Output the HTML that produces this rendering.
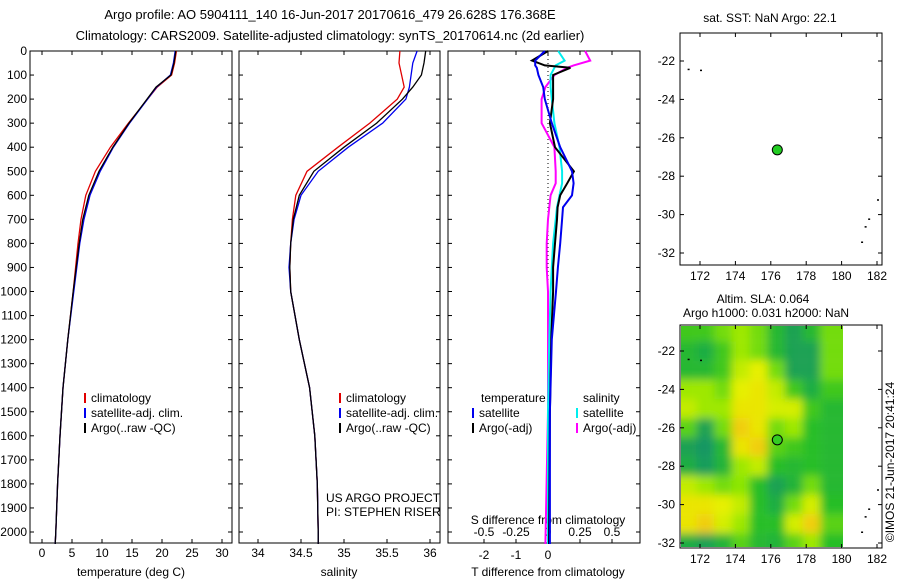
<!DOCTYPE html>
<html><head><meta charset="utf-8"><style>
body{margin:0;background:#fff}
svg{font-family:"Liberation Sans",sans-serif;font-size:12px}
</style></head><body>
<svg id="s" width="900" height="580" xmlns="http://www.w3.org/2000/svg">
<text x="330" y="19" text-anchor="middle" font-size="13">Argo profile: AO 5904111_140 16-Jun-2017 20170616_479 26.628S 176.368E</text>
<text x="330" y="40" text-anchor="middle" font-size="13">Climatology: CARS2009. Satellite-adjusted climatology: synTS_20170614.nc (2d earlier)</text>
<g id="g"></g>
</svg>
<script>
const depths=[0,50,100,150,200,300,400,500,600,700,800,900,1000,1200,1400,1600,1800,2000,2050];
const tempArgo=[22.3,22,21.5,19,17.5,14.5,11.8,9.5,7.8,6.8,6.2,5.7,5.2,4.3,3.5,3.0,2.6,2.3,2.2];
const tempClim=[22.4,22.1,21.6,19.2,17.6,14.4,11.4,8.9,7.3,6.5,6.0,5.6,5.2,4.3,3.5,3.0,2.6,2.3,2.2];
const tempSat=[22.2,21.9,21.4,19.1,17.6,14.6,11.9,9.7,8.0,7.0,6.3,5.8,5.3,4.3,3.5,3.0,2.6,2.3,2.2];
const salArgo=[35.95,35.93,35.9,35.8,35.68,35.38,35.0,34.65,34.48,34.41,34.38,34.37,34.38,34.48,34.6,34.66,34.69,34.7,34.7];
const salClim=[35.65,35.64,35.67,35.7,35.62,35.3,34.93,34.57,34.44,34.4,34.38,34.37,34.38,34.48,34.6,34.66,34.69,34.7,34.7];
const salSat=[35.85,35.8,35.78,35.76,35.72,35.45,35.05,34.7,34.5,34.42,34.38,34.36,34.38,34.48,34.6,34.66,34.69,34.7,34.7];
const dDepths=[0,40,60,70,100,150,200,300,400,500,550,600,650,700,800,900,1000,1200,1500,2050];
const dTSat=[-0.1,-0.4,-0.4,-0.35,-0.3,-0.15,-0.1,0.12,0.38,0.75,0.8,0.75,0.47,0.44,0.38,0.31,0.25,0.12,0.06,0.06];
const dTArgo=[0,-0.5,-0.1,0.7,0.16,0.16,0.16,0.06,0.22,0.81,0.6,0.38,0.3,0.28,0.22,0.16,0.16,0.1,0.06,0.03];
const dSSat=[0.08,0.13,0.06,0.05,0.02,0.02,0.03,0.05,0.09,0.11,0.11,0.09,0.07,0.06,0.04,0.03,0.02,0.01,0.0,0.0];
const dSArgo=[0.29,0.33,0.2,0.15,0.05,-0.02,-0.05,-0.05,0.05,0.06,0.06,0.02,0.01,0.0,-0.01,-0.01,0,0,0,-0.02];
const slaLats=[-21,-22,-23,-24,-25,-26,-27,-28,-29,-30,-31,-32];
const slaGrid=[
[0.4,0.4,0.5,0.6,0.5,0.3,0.1,0.3,0.5],[0.3,0.2,0.4,0.6,0.5,0.3,0.1,0.1,0.5],
[0.3,0.3,0.4,0.7,0.8,0.5,0.1,0.1,0.5],[0.6,0.6,0.5,0.8,0.85,0.7,0.4,0.2,0.4],
[0.7,0.6,0.6,0.85,0.85,0.75,0.75,0.4,0.3],[0.45,0.1,0.5,0.95,0.85,0.5,0.6,0.35,0.3],
[0.1,0.0,0.3,0.85,0.95,0.45,0.4,0.35,0.3],[0.2,0.05,0.25,0.6,0.7,0.35,0.3,0.35,0.3],
[0.7,0.6,0.5,0.55,0.35,0.1,0.25,0.5,0.3],[0.85,0.85,0.8,0.7,0.35,0.2,0.5,0.75,0.35],
[0.85,0.95,0.75,0.6,0.35,0.35,0.75,0.95,0.45],[0.2,0.1,0.25,0.45,0.3,0.25,0.45,0.6,0.35]];
const slaLons=[171.3,172.3,173.3,174.3,175.3,176.3,177.3,178.3,179.3];
const argoLon=176.368, argoLat=-26.628;

const NS="http://www.w3.org/2000/svg";const G=document.getElementById('g');
function el(t,a,txt,p){const e=document.createElementNS(NS,t);for(const k in a)e.setAttribute(k,a[k]);if(txt!=null)e.textContent=txt;(p||G).appendChild(e);return e;}
const yD=d=>51+d*0.2405;
function frame(x0,x1,y0,y1,name){const r=el('rect',{x:x0,y:y0,width:x1-x0,height:y1-y0,fill:'none',stroke:'#000'});}
function line(xs,ds,xf,col,w,name){const pts=xs.map((v,i)=>xf(v).toFixed(1)+','+yD(ds[i]).toFixed(1)).join(' ');const p=el('polyline',{points:pts,fill:'none',stroke:col,'stroke-width':w});}
function depthAxis(x0,x1,labels){for(let d=0;d<=2000;d+=100){const y=yD(d);el('line',{x1:x0,x2:x0+4,y1:y,y2:y,stroke:'#000'});el('line',{x1:x1,x2:x1-4,y1:y,y2:y,stroke:'#000'});if(labels){const t=el('text',{x:x0-3,y:y+4,'text-anchor':'end'},String(d));}}}
function xTicks(vals,xf,y0,y1,labs){vals.forEach((v,i)=>{const x=xf(v);el('line',{x1:x,x2:x,y1:y1,y2:y1-4,stroke:'#000'});el('line',{x1:x,x2:x,y1:y0,y2:y0+4,stroke:'#000'});if(labs){const t=el('text',{x:x,y:y1+14,'text-anchor':'middle'},labs[i]);}});}
function legend(x,y,items){items.forEach((it,i)=>{el('line',{x1:x,x2:x,y1:y+i*15-9,y2:y+i*15+1,stroke:it[1],'stroke-width':2});const t=el('text',{x:x+6,y:y+i*15},it[0]);});}
const xT=v=>42+v*6;
frame(30,232,51,543,'temperature-panel');depthAxis(30,232,true);
xTicks([0,5,10,15,20,25,30],xT,51,543,['0','5','10','15','20','25','30']);
el('text',{x:131,y:576,'text-anchor':'middle'},'temperature (deg C)');
line(tempClim,depths,xT,'#e00000',1.3,'temp-climatology-line');
line(tempSat,depths,xT,'#0000ee',1.3,'temp-satellite-line');
line(tempArgo,depths,xT,'#000',1.3,'temp-argo-line');
legend(85,402,[['climatology','#e00000'],['satellite-adj. clim.','#0000ee'],['Argo(..raw -QC)','#000']]);
const xS=v=>258+(v-34)*86;
frame(239,440,51,543,'salinity-panel');depthAxis(239,440,false);
xTicks([34,34.5,35,35.5,36],xS,51,543,['34','34.5','35','35.5','36']);
el('text',{x:339,y:576,'text-anchor':'middle'},'salinity');
line(salClim,depths,xS,'#e00000',1.3,'sal-climatology-line');
line(salSat,depths,xS,'#0000ee',1.3,'sal-satellite-line');
line(salArgo,depths,xS,'#000',1.3,'sal-argo-line');
legend(340,402,[['climatology','#e00000'],['satellite-adj. clim.','#0000ee'],['Argo(..raw -QC)','#000']]);
el('text',{x:326,y:502},'US ARGO PROJECT');
el('text',{x:326,y:516},'PI: STEPHEN RISER');
const xDT=v=>548+v*32, xDS=v=>548+v*128;
frame(448,640,51,543,'difference-panel');depthAxis(448,640,false);
xTicks([-2,-1,0,1,2],xDT,51,543,null);
[['-2',-2],['-1',-1],['0',0]].forEach(a=>el('text',{x:xDT(a[1]),y:559,'text-anchor':'middle'},a[0]));
[['-0.5',-0.5],['-0.25',-0.25],['0',0],['0.25',0.25],['0.5',0.5]].forEach(a=>el('text',{x:xDS(a[1]),y:536,'text-anchor':'middle'},a[0]));
el('text',{x:548,y:524,'text-anchor':'middle'},'S difference from climatology');
el('text',{x:548,y:576,'text-anchor':'middle'},'T difference from climatology');
el('line',{x1:548,x2:548,y1:51,y2:543,stroke:'#000','stroke-dasharray':'1,3'});
line(dSArgo,dDepths,xDS,'#ff00ff',2,'s-diff-argo-line');
line(dSSat,dDepths,xDS,'#00eeee',2,'s-diff-satellite-line');
line(dTArgo,dDepths,xDT,'#000',2,'t-diff-argo-line');
line(dTSat,dDepths,xDT,'#0000ee',2,'t-diff-satellite-line');
el('text',{x:481,y:402},'temperature');el('text',{x:583,y:402},'salinity');
legend(473,417,[['satellite','#0000ee'],['Argo(-adj)','#000']]);
legend(577,417,[['satellite','#00eeee'],['Argo(-adj)','#ff00ff']]);
const lonX=v=>700+(v-172)*17.7;
function map(y0,y1,latY,name){frame(680,882,y0,y1,name);
 [172,174,176,178,180,182].forEach(l=>{const x=lonX(l);el('line',{x1:x,x2:x,y1:y1,y2:y1-4,stroke:'#000'});el('line',{x1:x,x2:x,y1:y0,y2:y0+4,stroke:'#000'});el('text',{x:x,y:y1+15,'text-anchor':'middle'},String(l));});
 [-22,-24,-26,-28,-30,-32].forEach(l=>{const y=latY(l);el('line',{x1:680,x2:684,y1:y,y2:y,stroke:'#000'});el('line',{x1:882,x2:878,y1:y,y2:y,stroke:'#000'});el('text',{x:675,y:y+4,'text-anchor':'end'},String(l));});}
const lat1=v=>61+(-22-v)*19.2, lat2=v=>351+(-22-v)*19.2;
function col(v){const st=[[0,[20,150,100]],[0.35,[40,190,40]],[0.55,[140,230,0]],[0.8,[230,240,0]],[1,[245,195,20]]];for(let i=1;i<st.length;i++){if(v<=st[i][0]){const a=st[i-1],b=st[i],t=(v-a[0])/(b[0]-a[0]);return 'rgb('+a[1].map((c,j)=>Math.round(c+(b[1][j]-c)*t)).join(',')+')';}}return 'rgb(245,195,20)';}
const defs=el('defs',{});const cp=el('clipPath',{id:'cp'},null,defs);el('rect',{x:681,y:326,width:162,height:221},null,cp);
const f=el('filter',{id:'bl',x:'-10%',y:'-10%',width:'120%',height:'120%'},null,defs);el('feGaussianBlur',{stdDeviation:4.5},null,f);
const hg=el('g',{'clip-path':'url(#cp)'});const hb=el('g',{filter:'url(#bl)'},null,hg);
slaGrid.forEach((row,r)=>row.forEach((v,c)=>{const x0=lonX(slaLons[c]-0.5),y0=lat2(slaLats[r]+0.5);const rc=el('rect',{x:x0-(c==0?20:0),y:y0-(r==0?20:0),width:17.7+(c==0?20:0)+(c==row.length-1?20:0),height:19.2+(r==0?20:0)+(r==slaGrid.length-1?20:0),fill:col(v)},null,hb);}));
map(33,265,lat1,'sst-map');map(325,548,lat2,'sla-map');
el('text',{x:770,y:22,'text-anchor':'middle'},'sat. SST: NaN Argo: 22.1');
el('text',{x:763,y:303,'text-anchor':'middle'},'Altim. SLA: 0.064');
el('text',{x:766,y:317,'text-anchor':'middle'},'Argo h1000: 0.031 h2000: NaN');
el('circle',{cx:lonX(argoLon),cy:lat1(argoLat),r:5,fill:'#22cc22',stroke:'#000'});
el('circle',{cx:lonX(argoLon),cy:lat2(argoLat),r:5,fill:'#33cc22',stroke:'#000'});
[[171.3,-22.4],[172,-22.45],[181.5,-30.2],[181.3,-30.6],[181.1,-31.4],[182,-29.2]].forEach(p=>{el('rect',{x:lonX(p[0]),y:lat1(p[1]),width:2,height:1.5,fill:'#000'});el('rect',{x:lonX(p[0]),y:lat2(p[1]),width:2,height:1.5,fill:'#000'});});
const ct=el('text',{x:894,y:462,'text-anchor':'middle',transform:'rotate(-90 894 462)'},'©IMOS 21-Jun-2017 20:41:24');
</script>
</body></html>
